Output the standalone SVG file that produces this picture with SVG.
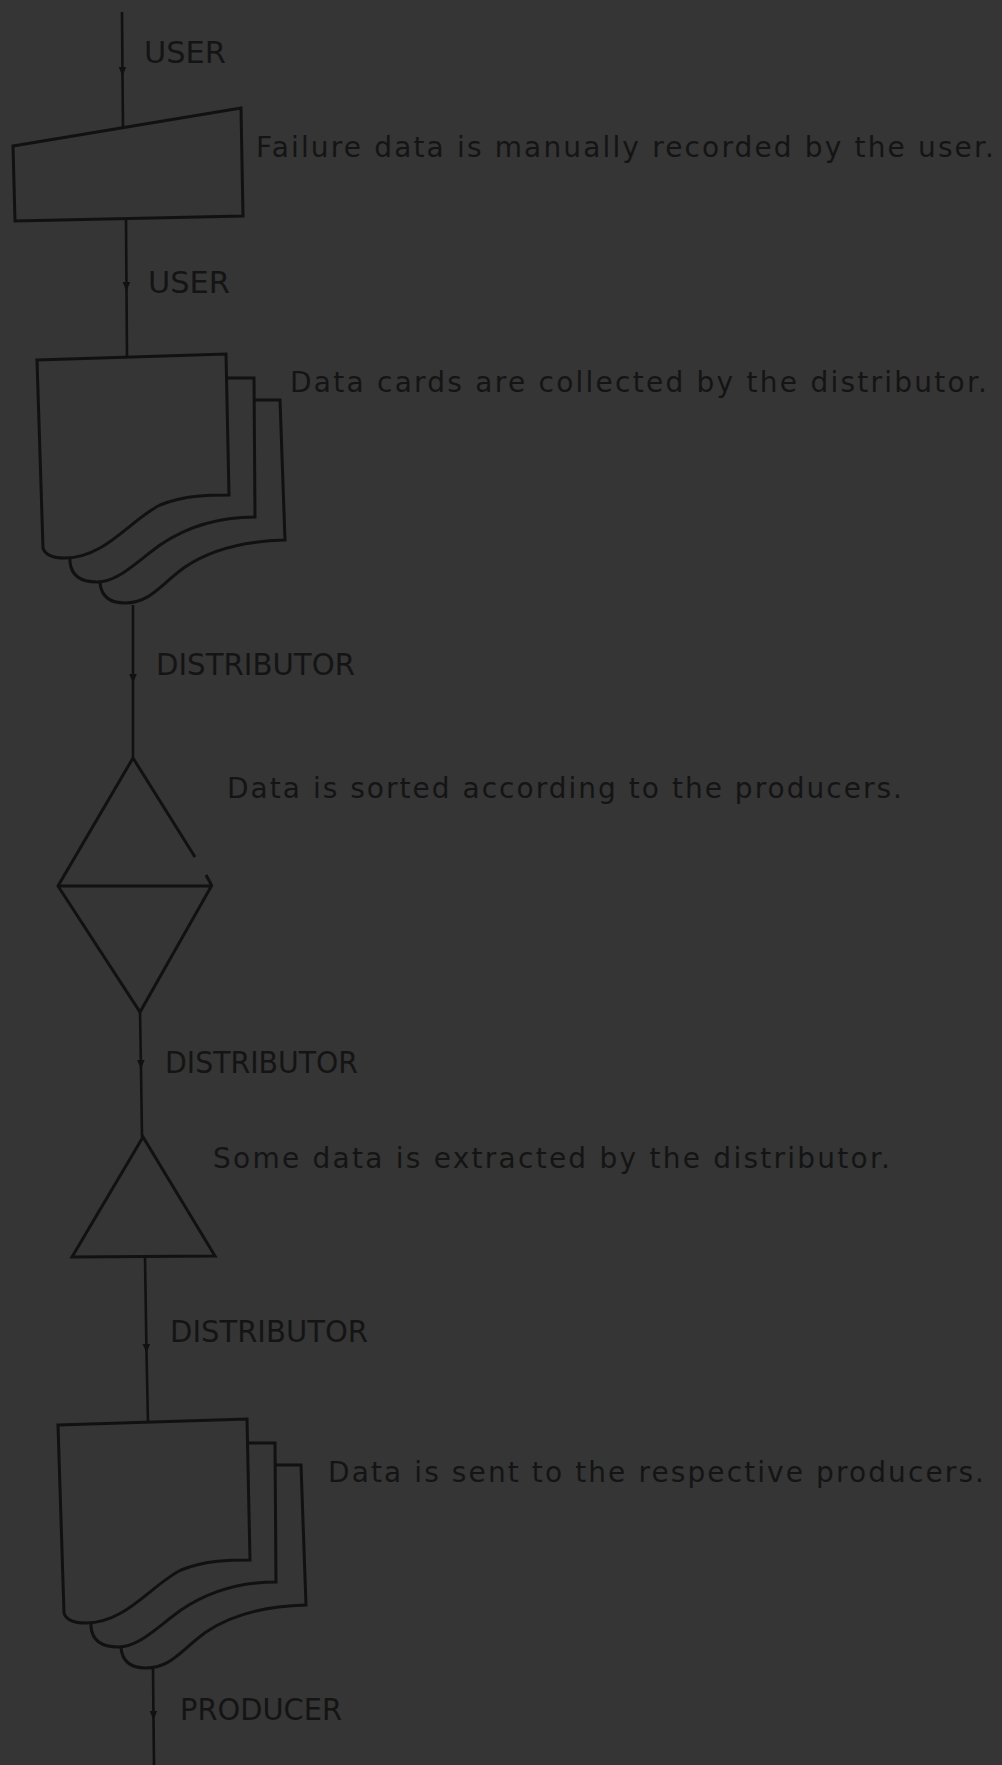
<svg xmlns="http://www.w3.org/2000/svg" width="1002" height="1765" viewBox="0 0 1002 1765">
<style>
  .bg { fill: #353535; }
  .shape { fill: #353535; stroke: #111111; stroke-width: 3; stroke-linejoin: miter; }
  .edge { fill: none; stroke: #111111; stroke-width: 3; stroke-linecap: butt; }
  .conn { fill: none; stroke: #111111; stroke-width: 2.6; }
  .lbl { font-family: "DejaVu Sans", "Liberation Sans", sans-serif; font-size: 30px; fill: #141414; }
  .desc { font-family: "DejaVu Sans", "Liberation Sans", sans-serif; font-size: 28px; fill: #141414; }
</style>
<defs>
  <marker id="arr" markerUnits="userSpaceOnUse" markerWidth="14" markerHeight="12" viewBox="-10 -6 12 12" refX="0" refY="0" orient="auto">
    <path d="M-9,-3.8 L0,0 L-9,3.8 Z" fill="#111111"/>
  </marker>
  <g id="stack">
    <path class="shape" d="M255,400 L280,400 L285,540 C245,541 210,550 185,567 C160,585 150,603 125,603 Q102,603 100,583 L100,400 Z"/>
    <path class="shape" d="M70,378 L254,378 L255,517 C215,517 185,528 160,545 C135,563 118,582 97,582 Q72,582 70,562 Z"/>
    <path class="shape" d="M37,360 L226,354 L229,495 C210,495 185,495 160,505 C130,520 105,558 65,558 Q46,558 43,548 Z"/>
  </g>
</defs>
<rect class="bg" x="0" y="0" width="1002" height="1765"/>

<g id="connectors">
  <polyline class="conn" points="122,12 122.5,76 123,127" marker-mid="url(#arr)"/>
  <polyline class="conn" points="126,219 126.5,291 127,357" marker-mid="url(#arr)"/>
  <polyline class="conn" points="133,605 133,683 133,758" marker-mid="url(#arr)"/>
  <polyline class="conn" points="140,1012 141,1069 142,1137" marker-mid="url(#arr)"/>
  <polyline class="conn" points="145,1257 146.5,1353 148,1423" marker-mid="url(#arr)"/>
  <polyline class="conn" points="153,1667 153.5,1720 154,1765" marker-mid="url(#arr)"/>
</g>

<g id="node-manual-input">
  <polygon class="shape" points="13,146 241,108 243,216 15,221"/>
  <text class="desc" x="256" y="157" textLength="738" lengthAdjust="spacing">Failure data is manually recorded by the user.</text>
</g>

<g id="node-collect">
  <use href="#stack"/>
  <text class="desc" x="290" y="392" textLength="697" lengthAdjust="spacing">Data cards are collected by the distributor.</text>
</g>

<g id="node-sort">
  <path class="edge" d="M133,758 L58,886 L140,1012 L212,885 M58,886 L212,886 M133,758 L195,857 M206,875 L212,886"/>
  <text class="desc" x="227" y="798" textLength="675" lengthAdjust="spacing">Data is sorted according to the producers.</text>
</g>

<g id="node-extract">
  <polygon class="shape" points="143,1137 72,1257 215,1256"/>
  <text class="desc" x="213" y="1168" textLength="677" lengthAdjust="spacing">Some data is extracted by the distributor.</text>
</g>

<g id="node-send">
  <use href="#stack" transform="translate(21,1065)"/>
  <text class="desc" x="328" y="1482" textLength="656" lengthAdjust="spacing">Data is sent to the respective producers.</text>
</g>

<g id="labels">
  <text class="lbl" x="144" y="63" textLength="82" lengthAdjust="spacingAndGlyphs">USER</text>
  <text class="lbl" x="148" y="293" textLength="82" lengthAdjust="spacingAndGlyphs">USER</text>
  <text class="lbl" x="156" y="675" textLength="199" lengthAdjust="spacingAndGlyphs">DISTRIBUTOR</text>
  <text class="lbl" x="165" y="1073" textLength="193" lengthAdjust="spacingAndGlyphs">DISTRIBUTOR</text>
  <text class="lbl" x="170" y="1342" textLength="198" lengthAdjust="spacingAndGlyphs">DISTRIBUTOR</text>
  <text class="lbl" x="180" y="1720" textLength="162" lengthAdjust="spacingAndGlyphs">PRODUCER</text>
</g>
</svg>
